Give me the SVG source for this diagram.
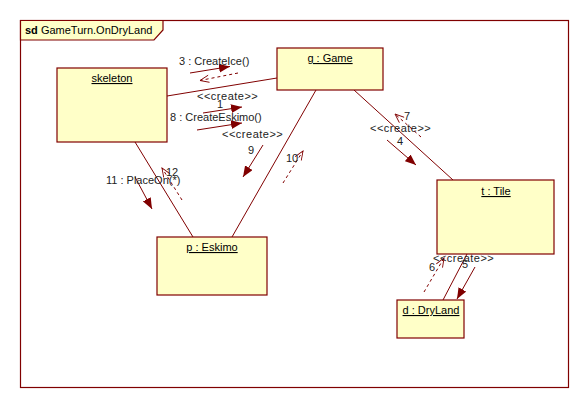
<svg xmlns="http://www.w3.org/2000/svg" width="588" height="408" viewBox="0 0 588 408">
  <style>
    .frame { fill: #ffffff; stroke: #800000; stroke-width: 1.2; }
    .tab { fill: #ffffc8; stroke: #800000; stroke-width: 1.2; }
    .box { fill: #ffffc8; stroke: #800000; stroke-width: 1.2; }
    .name { font-family: "Liberation Sans", Arial, sans-serif; font-size: 11px; fill: #000000; text-anchor: middle; text-decoration: underline; }
    .title { font-family: "Liberation Sans", Arial, sans-serif; font-size: 11px; fill: #000000; }
    .msg { font-family: "Liberation Sans", Arial, sans-serif; font-size: 11px; fill: #222222; }
    .stereo { letter-spacing: 0.5px; }
    .link { stroke: #800000; stroke-width: 1; fill: none; }
    .call { stroke: #800000; stroke-width: 1; fill: none; marker-end: url(#filled); }
    .reply { stroke: #800000; stroke-width: 1; fill: none; stroke-dasharray: 3 3; marker-end: url(#open); }
  </style>
  <defs>
    <marker id="filled" viewBox="0 0 10 8" refX="10" refY="4" markerWidth="11" markerHeight="9" markerUnits="userSpaceOnUse" orient="auto">
      <path d="M0,0 L10,4 L0,8 z" fill="#800000"/>
    </marker>
    <marker id="open" viewBox="-1 -1 12 10" refX="10" refY="4" markerWidth="11" markerHeight="9" markerUnits="userSpaceOnUse" orient="auto">
      <path d="M0,0 L10,4 L0,8" fill="none" stroke="#800000" stroke-width="1"/>
    </marker>
  </defs>

  <!-- interaction frame -->
  <rect class="frame" x="20.5" y="20.5" width="548" height="367"/>
  <path class="tab" d="M20.5,20.5 H163 V30 L154,40 H20.5 Z"/>
  <text class="title" x="25" y="34"><tspan font-weight="bold">sd</tspan> GameTurn.OnDryLand</text>

  <!-- links and messages -->
  <g id="connectors">
    <line class="link" x1="167" y1="96" x2="277" y2="78"/>
    <line class="link" x1="316" y1="90" x2="232" y2="237"/>
    <line class="link" x1="135" y1="142" x2="193" y2="237"/>
    <line class="link" x1="354" y1="90" x2="453" y2="180"/>
    <line class="link" x1="443" y1="300" x2="467" y2="254"/>

    <!-- skeleton -> game -->
    <line class="call" x1="190" y1="73" x2="230" y2="66.5"/>
    <line class="reply" x1="238" y1="73" x2="200" y2="80.5"/>
    <text class="msg" x="179" y="65">3 : CreateIce()</text>

    <line class="call" x1="203" y1="113" x2="242" y2="107"/>
    <text class="msg stereo" x="197" y="100">&lt;&lt;create&gt;&gt;</text>
    <text class="msg" x="217" y="108">1</text>

    <line class="call" x1="197" y1="130" x2="242" y2="123"/>
    <text class="msg" x="170" y="121">8 : CreateEskimo()</text>

    <!-- game -> eskimo -->
    <line class="call" x1="263" y1="145" x2="243" y2="177"/>
    <text class="msg stereo" x="222" y="138">&lt;&lt;create&gt;&gt;</text>
    <text class="msg" x="248" y="154">9</text>
    <line class="reply" x1="283" y1="183" x2="303" y2="151"/>
    <text class="msg" x="286" y="162">10</text>

    <!-- skeleton -> eskimo -->
    <line class="call" x1="135" y1="177" x2="152" y2="209"/>
    <text class="msg" x="106" y="184">11 : PlaceOn(*)</text>
    <line class="reply" x1="182" y1="200" x2="162" y2="168"/>
    <text class="msg" x="166" y="176">12</text>

    <!-- game -> tile -->
    <line class="call" x1="387" y1="140" x2="416" y2="165"/>
    <text class="msg stereo" x="370" y="132">&lt;&lt;create&gt;&gt;</text>
    <text class="msg" x="397" y="145">4</text>
    <line class="reply" x1="421" y1="137" x2="395" y2="114"/>
    <text class="msg" x="404" y="120">7</text>

    <!-- tile -> dryland -->
    <line class="call" x1="475" y1="267" x2="457" y2="299"/>
    <line class="reply" x1="424" y1="292" x2="444" y2="258"/>
    <text class="msg stereo" x="433" y="262">&lt;&lt;create&gt;&gt;</text>
    <text class="msg" x="429" y="271">6</text>
    <text class="msg" x="462" y="268">5</text>
  </g>

  <!-- objects -->
  <g id="skeleton">
    <rect class="box" x="57" y="68" width="110" height="74"/>
    <text class="name" x="112" y="82">skeleton</text>
  </g>
  <g id="game">
    <rect class="box" x="277" y="48" width="106" height="42"/>
    <text class="name" x="330" y="62">g : Game</text>
  </g>
  <g id="eskimo">
    <rect class="box" x="157" y="237" width="110" height="58"/>
    <text class="name" x="212" y="251">p : Eskimo</text>
  </g>
  <g id="tile">
    <rect class="box" x="437" y="180" width="117" height="74"/>
    <text class="name" x="496" y="195">t : Tile</text>
  </g>
  <g id="dryland">
    <rect class="box" x="397" y="300" width="67" height="38"/>
    <text class="name" x="431" y="314">d : DryLand</text>
  </g>
</svg>
